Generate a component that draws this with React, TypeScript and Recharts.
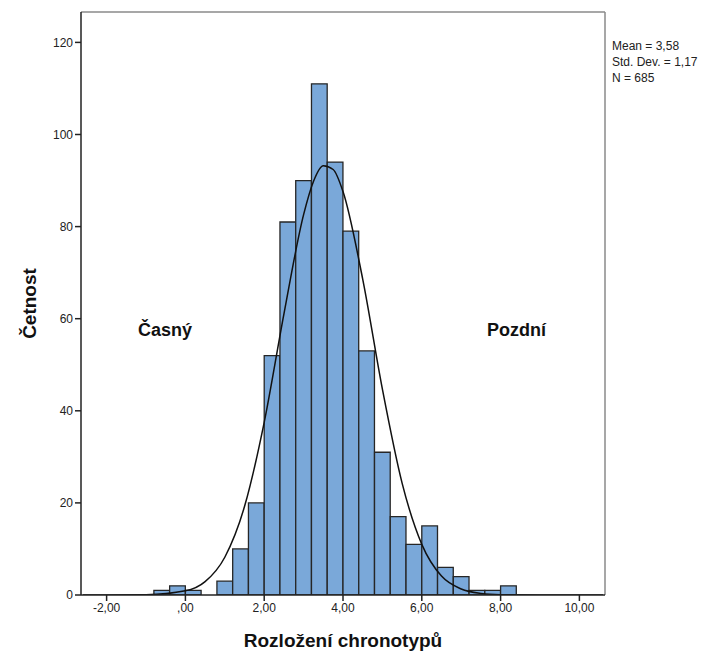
import {
  ComposedChart,
  Bar,
  Line,
  XAxis,
  YAxis,
  ReferenceLine,
  Label,
} from "recharts";

// ── Data ─────────────────────────────────────────────────────────────

const BIN_WIDTH = 0.4;

// left edge of every bin
const binStarts = [
  -0.8, -0.4, 0.0, 0.4, 0.8, 1.2, 1.6, 2.0, 2.4, 2.8, 3.2, 3.6, 4.0, 4.4,
  4.8, 5.2, 5.6, 6.0, 6.4, 6.8, 7.2, 7.6, 8.0,
];

const binCounts = [
  1, 2, 1, 0, 3, 10, 20, 52, 81, 90, 111, 94, 79, 53, 31, 17, 11, 15, 6, 4,
  1, 1, 2,
];

// fitted normal curve
const curveX = [
  -2.6, -2.0, -1.0, 0.0, 0.5, 1.0, 1.5, 2.0, 2.5, 3.0, 3.25, 3.5, 3.75, 4.0,
  4.5, 5.0, 5.5, 6.0, 6.5, 7.0, 7.5, 8.0, 9.0, 10.0, 10.6,
];
const curveY = [
  0, 0, 0.05, 0.9, 2.9, 8.2, 19.2, 37.5, 61, 82.6, 89.8, 93.2, 92.4, 87.6,
  68.6, 44.7, 24.3, 11, 4.1, 1.3, 0.35, 0.08, 0, 0, 0,
];

const xTicks = [-2, 0, 2, 4, 6, 8, 10];
const yTicks = [0, 20, 40, 60, 80, 100, 120];

const X_MIN = -2.65;
const X_MAX = 10.65;
const Y_MAX = 126.6;

const statLines = ["Mean = 3,58", "Std. Dev. = 1,17", "N = 685"];

const barData = binStarts.map((s, i) => ({
  x: Math.round((s + BIN_WIDTH / 2) * 100) / 100,
  count: binCounts[i],
}));
const curveData = curveX.map((x, i) => ({ x, y: curveY[i] }));

const fmtX = (v: number) =>
  v === 0 ? ",00" : v.toFixed(2).replace(".", ",");

const FONT = "'Liberation Sans', Arial, sans-serif";

const boldText = {
  fill: "#111",
  fontSize: 19,
  fontWeight: "bold",
  fontFamily: FONT,
};

// ── Component ────────────────────────────────────────────────────────

export default function App() {
  return (
    <div
      style={{
        position: "absolute",
        left: 0,
        top: 0,
        width: 713,
        height: 655,
        background: "#fff",
        fontFamily: FONT,
      }}
    >
      <ComposedChart
        width={713}
        height={655}
        data={barData}
        margin={{ top: 12, right: 108, bottom: 0, left: 0 }}
      >
        <XAxis
          dataKey="x"
          type="number"
          domain={[X_MIN, X_MAX]}
          ticks={xTicks}
          tickFormatter={fmtX}
          allowDataOverflow
          height={60}
          stroke="#222"
          strokeWidth={1.5}
          tickSize={6}
          tickMargin={2}
          tick={{ fill: "#222", fontSize: 12, fontFamily: FONT }}
        >
          <Label
            value="Rozložení chronotypů"
            position="insideBottom"
            offset={8}
            style={boldText}
          />
        </XAxis>
        <XAxis
          xAxisId="curve"
          dataKey="x"
          type="number"
          domain={[X_MIN, X_MAX]}
          allowDataOverflow
          hide
        />
        <YAxis
          type="number"
          domain={[0, Y_MAX]}
          ticks={yTicks}
          allowDataOverflow
          width={81}
          stroke="#222"
          strokeWidth={1.5}
          tickSize={6}
          tickMargin={2}
          tick={{ fill: "#222", fontSize: 12, fontFamily: FONT }}
        >
          <Label
            value="Četnost"
            angle={-90}
            position="insideLeft"
            offset={29}
            style={{ ...boldText, textAnchor: "middle" }}
          />
        </YAxis>
        <ReferenceLine y={Y_MAX} stroke="#8a8a8a" strokeWidth={1.5} />
        <ReferenceLine x={X_MAX} stroke="#8a8a8a" strokeWidth={1.5} />
        <Bar
          dataKey="count"
          barSize={15.7}
          fill="#7aa8d9"
          stroke="#262626"
          strokeWidth={1.3}
          isAnimationActive={false}
        />
        <Line
          xAxisId="curve"
          data={curveData}
          dataKey="y"
          type="monotone"
          stroke="#111"
          strokeWidth={1.5}
          dot={false}
          activeDot={false}
          isAnimationActive={false}
        />
      </ComposedChart>

      <div
        style={{
          position: "absolute",
          left: 612,
          top: 38,
          fontSize: 12,
          lineHeight: "16px",
          color: "#222",
        }}
      >
        {statLines.map((t) => (
          <div key={t}>{t}</div>
        ))}
      </div>
      <div
        style={{
          position: "absolute",
          left: 138,
          top: 320,
          fontSize: 18,
          fontWeight: "bold",
          color: "#111",
        }}
      >
        Časný
      </div>
      <div
        style={{
          position: "absolute",
          left: 487,
          top: 320,
          fontSize: 18,
          fontWeight: "bold",
          color: "#111",
        }}
      >
        Pozdní
      </div>
    </div>
  );
}
